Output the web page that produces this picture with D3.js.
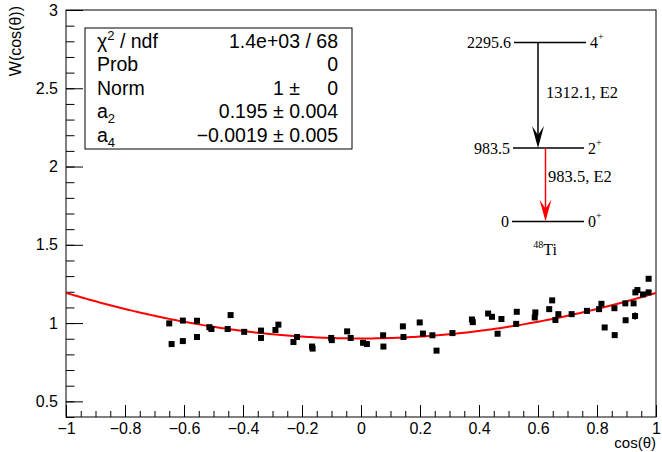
<!DOCTYPE html>
<html>
<head>
<meta charset="utf-8">
<script src="https://cdn.jsdelivr.net/npm/d3@7"></script>
<style>
  body { margin: 0; background: #fff; }
  svg { display: block; }
  text { font-family: "Liberation Sans", Arial, sans-serif; }
  .serif { font-family: "Liberation Serif", "Times New Roman", serif; }
</style>
</head>
<body>
<div id="plot"></div>
<script>
// measured angular distribution, W(cos(theta))
const cosTheta = [-0.650, -0.642, -0.604, -0.604, -0.556, -0.556, -0.514, -0.507, -0.452, -0.442,
  -0.396, -0.339, -0.339, -0.290, -0.280, -0.229, -0.217, -0.166, -0.164, -0.101,
  -0.099, -0.047, -0.035, 0.007, 0.020, 0.075, 0.076, 0.142, 0.144, 0.199,
  0.210, 0.242, 0.256, 0.310, 0.376, 0.379, 0.431, 0.444, 0.463, 0.476,
  0.528, 0.526, 0.589, 0.591, 0.638, 0.648, 0.659, 0.669, 0.714, 0.766,
  0.807, 0.815, 0.826, 0.859, 0.860, 0.897, 0.896, 0.924, 0.929, 0.930,
  0.937, 0.956, 0.975, 0.975];
const wValues = [0.998, 0.866, 1.016, 0.885, 1.015, 0.911, 0.974, 0.962, 0.962, 1.051,
  0.944, 0.952, 0.905, 0.956, 0.990, 0.879, 0.911, 0.850, 0.837, 0.905,
  0.891, 0.947, 0.905, 0.874, 0.866, 0.922, 0.850, 0.979, 0.911, 1.004,
  0.933, 0.922, 0.824, 0.936, 1.023, 1.006, 1.061, 1.040, 0.932, 1.026,
  1.072, 0.995, 1.036, 1.068, 1.089, 1.145, 1.020, 1.057, 1.057, 1.078,
  1.089, 1.123, 0.972, 1.095, 0.923, 1.018, 1.126, 1.126, 1.045, 1.196,
  1.211, 1.183, 1.196, 1.283];
const wErrors = [0.008, 0.008, 0.008, 0.008, 0.008, 0.008, 0.008, 0.008, 0.008, 0.008,
  0.008, 0.008, 0.008, 0.008, 0.008, 0.008, 0.008, 0.008, 0.008, 0.008,
  0.008, 0.008, 0.008, 0.008, 0.008, 0.008, 0.008, 0.008, 0.008, 0.008,
  0.008, 0.008, 0.008, 0.008, 0.008, 0.008, 0.008, 0.008, 0.008, 0.008,
  0.008, 0.008, 0.008, 0.008, 0.008, 0.008, 0.008, 0.008, 0.008, 0.008,
  0.008, 0.008, 0.016, 0.008, 0.016, 0.016, 0.008, 0.008, 0.025, 0.008,
  0.008, 0.008, 0.008, 0.008];

// fit parameters W = Norm (1 + a2 P2 + a4 P4)
const fitNorm = 1;
const fitA2 = 0.195;
const fitA4 = -0.0019;

const xTicks = [-1, -0.8, -0.6, -0.4, -0.2, 0, 0.2, 0.4, 0.6, 0.8, 1];
const yTicks = [0.5, 1, 1.5, 2, 2.5, 3];

const statLabels = ["χ2 / ndf", "Prob", "Norm", "a2", "a4"];
const statValues = ["1.4e+03 / 68", "0", "1 ±     0", "0.195 ± 0.004", "−0.0019 ± 0.005"];

const W = 662, H = 452;
const frame = {left: 66, right: 656, top: 10, bottom: 417};

const svg = d3.select("#plot").append("svg")
  .attr("width", W).attr("height", H);

const x = d3.scaleLinear().domain([-1, 1]).range([frame.left, frame.right]);
const y = d3.scaleLinear().domain([0.4, 3]).range([frame.bottom, frame.top]);

// frame
svg.append("rect")
  .attr("x", frame.left).attr("y", frame.top)
  .attr("width", frame.right - frame.left).attr("height", frame.bottom - frame.top)
  .attr("fill", "none").attr("stroke", "#000").attr("stroke-width", 1);

// minor ticks
const xMinor = d3.range(-1, 1.0001, 0.05).map(v => +v.toFixed(2));
const yMinor = d3.range(0.4, 3.0001, 0.1).map(v => +v.toFixed(1));

svg.append("g")
  .attr("transform", `translate(0,${frame.bottom})`)
  .call(d3.axisBottom(x).tickValues(xMinor).tickSize(-6).tickFormat(""))
  .call(g => g.select(".domain").remove());

svg.append("g")
  .attr("transform", `translate(${frame.left},0)`)
  .call(d3.axisLeft(y).tickValues(yMinor).tickSize(-8.5).tickFormat(""))
  .call(g => g.select(".domain").remove());

// major ticks + labels
svg.append("g")
  .attr("transform", `translate(0,${frame.bottom})`)
  .call(d3.axisBottom(x).tickValues(xTicks).tickSize(-12).tickPadding(6).tickFormat(d3.format("")))
  .call(g => g.select(".domain").remove());

svg.append("g")
  .attr("transform", `translate(${frame.left},0)`)
  .call(d3.axisLeft(y).tickValues(yTicks).tickSize(-17).tickPadding(8).tickFormat(d3.format("")))
  .call(g => g.select(".domain").remove());

svg.selectAll(".tick text")
  .attr("font-family", "Liberation Sans, Arial, sans-serif")
  .attr("font-size", 16).attr("fill", "#000");
svg.selectAll(".tick line").attr("stroke", "#000");

// axis titles
svg.append("text")
  .attr("x", frame.right).attr("y", 448)
  .attr("text-anchor", "end").attr("font-size", 15)
  .text("cos(θ)");

svg.append("text")
  .attr("transform", "rotate(-90)")
  .attr("x", -frame.top + 4).attr("y", 21)
  .attr("text-anchor", "end").attr("font-size", 16)
  .text("W(cos(θ))");

// clip to frame
svg.append("clipPath").attr("id", "clip")
  .append("rect")
  .attr("x", frame.left).attr("y", frame.top)
  .attr("width", frame.right - frame.left).attr("height", frame.bottom - frame.top);

const plotG = svg.append("g").attr("clip-path", "url(#clip)");

// fit function
const p2 = c => 0.5 * (3 * c * c - 1);
const p4 = c => (35 * c ** 4 - 30 * c * c + 3) / 8;
const fitX = d3.range(-1, 1.0001, 0.01);
const line = d3.line()
  .x(d => x(d))
  .y(d => y(fitNorm * (1 + fitA2 * p2(d) + fitA4 * p4(d))));

// data points
const points = cosTheta.map((c, i) => ({c: c, w: wValues[i], e: wErrors[i]}));

plotG.selectAll(".err")
  .data(points)
  .enter().append("line")
  .attr("class", "err")
  .attr("x1", d => x(d.c)).attr("x2", d => x(d.c))
  .attr("y1", d => y(d.w - d.e)).attr("y2", d => y(d.w + d.e))
  .attr("stroke", "#000").attr("stroke-width", 1);

plotG.append("path")
  .datum(fitX)
  .attr("d", line)
  .attr("fill", "none")
  .attr("stroke", "#ff0000")
  .attr("stroke-width", 2);

const ms = 6;
plotG.selectAll(".pt")
  .data(points)
  .enter().append("rect")
  .attr("class", "pt")
  .attr("x", d => x(d.c) - ms / 2)
  .attr("y", d => y(d.w) - ms / 2)
  .attr("width", ms).attr("height", ms)
  .attr("fill", "#000");

// stats box
const box = {x: 85, y: 28, w: 267, h: 121};
svg.append("rect")
  .attr("x", box.x).attr("y", box.y)
  .attr("width", box.w).attr("height", box.h)
  .attr("fill", "#fff").attr("stroke", "#000").attr("stroke-width", 1);

const rowY = [47.5, 71, 94.5, 118, 141.5];
statLabels.forEach((lab, i) => {
  const t = svg.append("text")
    .attr("x", 97).attr("y", rowY[i])
    .attr("font-size", 19.5);
  if (i === 0) {
    t.append("tspan").text("χ");
    t.append("tspan").attr("font-size", 13).attr("dy", -8).text("2");
    t.append("tspan").attr("dy", 8).text(" / ndf");
  } else if (i >= 3) {
    t.append("tspan").text("a");
    t.append("tspan").attr("font-size", 13).attr("dy", 5).text(lab.slice(1));
  } else {
    t.text(lab);
  }
  svg.append("text")
    .attr("x", 338).attr("y", rowY[i])
    .attr("text-anchor", "end")
    .attr("font-size", 19.5)
    .attr("xml:space", "preserve")
    .style("white-space", "pre")
    .text(statValues[i]);
});

// level scheme of 48Ti
const scheme = svg.append("g").attr("class", "serif");
const levels = [
  {y: 42.5, x1: 514, x2: 586, e: "2295.6", j: "4", p: "+"},
  {y: 148, x1: 513, x2: 584, e: "983.5", j: "2", p: "+"},
  {y: 221.5, x1: 512, x2: 584, e: "0", j: "0", p: "+"}
];
levels.forEach(l => {
  scheme.append("line")
    .attr("x1", l.x1).attr("x2", l.x2).attr("y1", l.y).attr("y2", l.y)
    .attr("stroke", "#000").attr("stroke-width", 1.5);
  scheme.append("text")
    .attr("class", "serif")
    .attr("x", l.x1 - 3).attr("y", l.y + 5.5)
    .attr("text-anchor", "end").attr("font-size", 16)
    .text(l.e);
  const t = scheme.append("text")
    .attr("class", "serif")
    .attr("x", l.x2 + 4).attr("y", l.y + 5.5)
    .attr("font-size", 16);
  t.append("tspan").text(l.j);
  t.append("tspan").attr("font-size", 10).attr("dy", -8).text(l.p);
});

function arrow(xp, y1, y2, color) {
  scheme.append("line")
    .attr("x1", xp).attr("x2", xp).attr("y1", y1).attr("y2", y2 - 12)
    .attr("stroke", color).attr("stroke-width", 1.5);
  scheme.append("path")
    .attr("d", `M${xp - 6},${y2 - 22} L${xp},${y2 - 13} L${xp + 6},${y2 - 22} L${xp},${y2} Z`)
    .attr("fill", color);
}
arrow(538, 42.5, 148, "#000");
arrow(545.5, 148, 221.5, "#ff0000");

scheme.append("text").attr("class", "serif")
  .attr("x", 546).attr("y", 97.5).attr("font-size", 16.5)
  .text("1312.1, E2");
scheme.append("text").attr("class", "serif")
  .attr("x", 548).attr("y", 182).attr("font-size", 16.5)
  .text("983.5, E2");

const ti = scheme.append("text").attr("class", "serif")
  .attr("x", 545).attr("y", 255).attr("text-anchor", "middle").attr("font-size", 16);
ti.append("tspan").attr("font-size", 10).attr("dy", -7).text("48");
ti.append("tspan").attr("dy", 7).text("Ti");
</script>
</body>
</html>
